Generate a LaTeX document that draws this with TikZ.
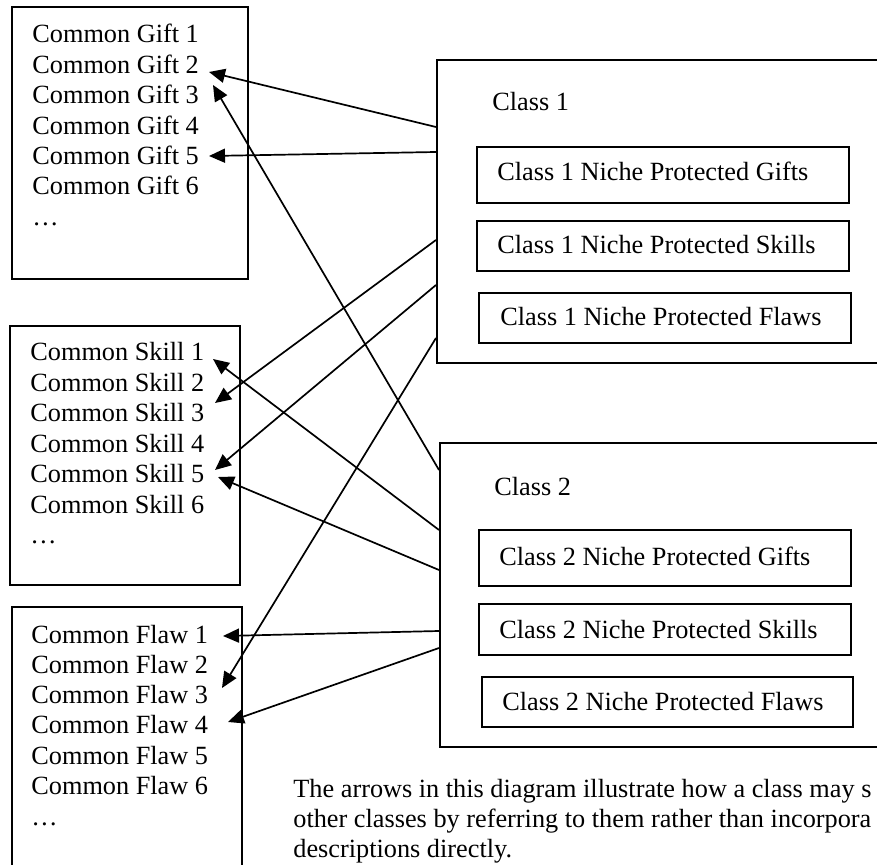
\documentclass[tikz,border=0pt]{standalone}
\usepackage{fontspec}
\setmainfont{Liberation Serif}
\usetikzlibrary{arrows.meta,fit}
\begin{document}
\begin{tikzpicture}[x=0.5pt,y=-0.5pt,
  box/.style={draw,line width=1pt,inner sep=0pt,fit={#1}},
  item/.style={anchor=base west,inner sep=0pt,font=\fontsize{13.14pt}{15.2pt}\selectfont},
  arr/.style={line width=0.85pt,-{Triangle[length=8pt,width=7pt]}}]
\useasboundingbox (0,0) rectangle (877,865);
\fill[white] (0,0) rectangle (877,865);
\clip (0,0) rectangle (877,865);
% left list boxes
\node[box={(12,7) (248,279)}] (gbox) {};
\node[box={(10,326) (240,585)}] (sbox) {};
\node[box={(12,607) (242,900)}] (fbox) {};
% class boxes
\node[box={(437,60) (900,363)}] (c1) {};
\node[box={(440,443) (900,747)}] (c2) {};
\node[box={(477,147) (849,203)}] (c1g) {};
\node[box={(477,221) (849,271)}] (c1s) {};
\node[box={(479,293) (851,343)}] (c1f) {};
\node[box={(479,530) (851,586)}] (c2g) {};
\node[box={(479,604) (851,655)}] (c2s) {};
\node[box={(482,677) (853,727)}] (c2f) {};
% texts
\foreach \i in {1,...,6} {
  \node[item] (g\i) at (32,{43+30.4*(\i-1)}) {Common Gift \i};
  \node[item] (s\i) at (30,{361+30.4*(\i-1)}) {Common Skill \i};
  \node[item] (f\i) at (31,{643+30.3*(\i-1)}) {Common Flaw \i};
}
\node[item] (g7) at (32,225.4) {…};
\node[item] (s7) at (30,543.4) {…};
\node[item] (f7) at (31,825) {…};
\node[item] (c1t) at (492,111) {Class 1};
\node[item] (c2t) at (494,495) {Class 2};
\node[item] (c1gt) at (497,181) {Class 1 Niche Protected Gifts};
\node[item] (c1st) at (497,254) {Class 1 Niche Protected Skills};
\node[item] (c1ft) at (500,326) {Class 1 Niche Protected Flaws};
\node[item] (c2gt) at (499,565) {Class 2 Niche Protected Gifts};
\node[item] (c2st) at (499,638) {Class 2 Niche Protected Skills};
\node[item] (c2ft) at (502,710) {Class 2 Niche Protected Flaws};
\node[item] (cap1) at (293,797) {The arrows in this diagram illustrate how a class may s};
\node[item] (cap2) at (293,827) {other classes by referring to them rather than incorpora};
\node[item] (cap3) at (293,857) {descriptions directly.};
% arrow tips (free ends)
\coordinate (tg2) at (209,72);
\coordinate (tg5) at (209,156);
\coordinate (tg3) at (213,85);
\coordinate (ts3) at (215,403);
\coordinate (ts5a) at (215,470);
\coordinate (ts1) at (213,359);
\coordinate (ts5b) at (218,477);
\coordinate (tf3) at (222,688);
\coordinate (tf1) at (223,636);
\coordinate (tf4) at (228,722);
% arrows
\draw[arr] (c1.west |- 0,127) -- (tg2);
\draw[arr] (c1.west |- 0,152) -- (tg5);
\draw[arr] (c1.west |- 0,240) -- (ts3);
\draw[arr] (c1.west |- 0,285) -- (ts5a);
\draw[arr] (c1.west |- 0,338) -- (tf3);
\draw[arr] (c2.west |- 0,470) -- (tg3);
\draw[arr] (c2.west |- 0,530) -- (ts1);
\draw[arr] (c2.west |- 0,570) -- (ts5b);
\draw[arr] (c2.west |- 0,631) -- (tf1);
\draw[arr] (c2.west |- 0,648) -- (tf4);
\end{tikzpicture}
\end{document}
